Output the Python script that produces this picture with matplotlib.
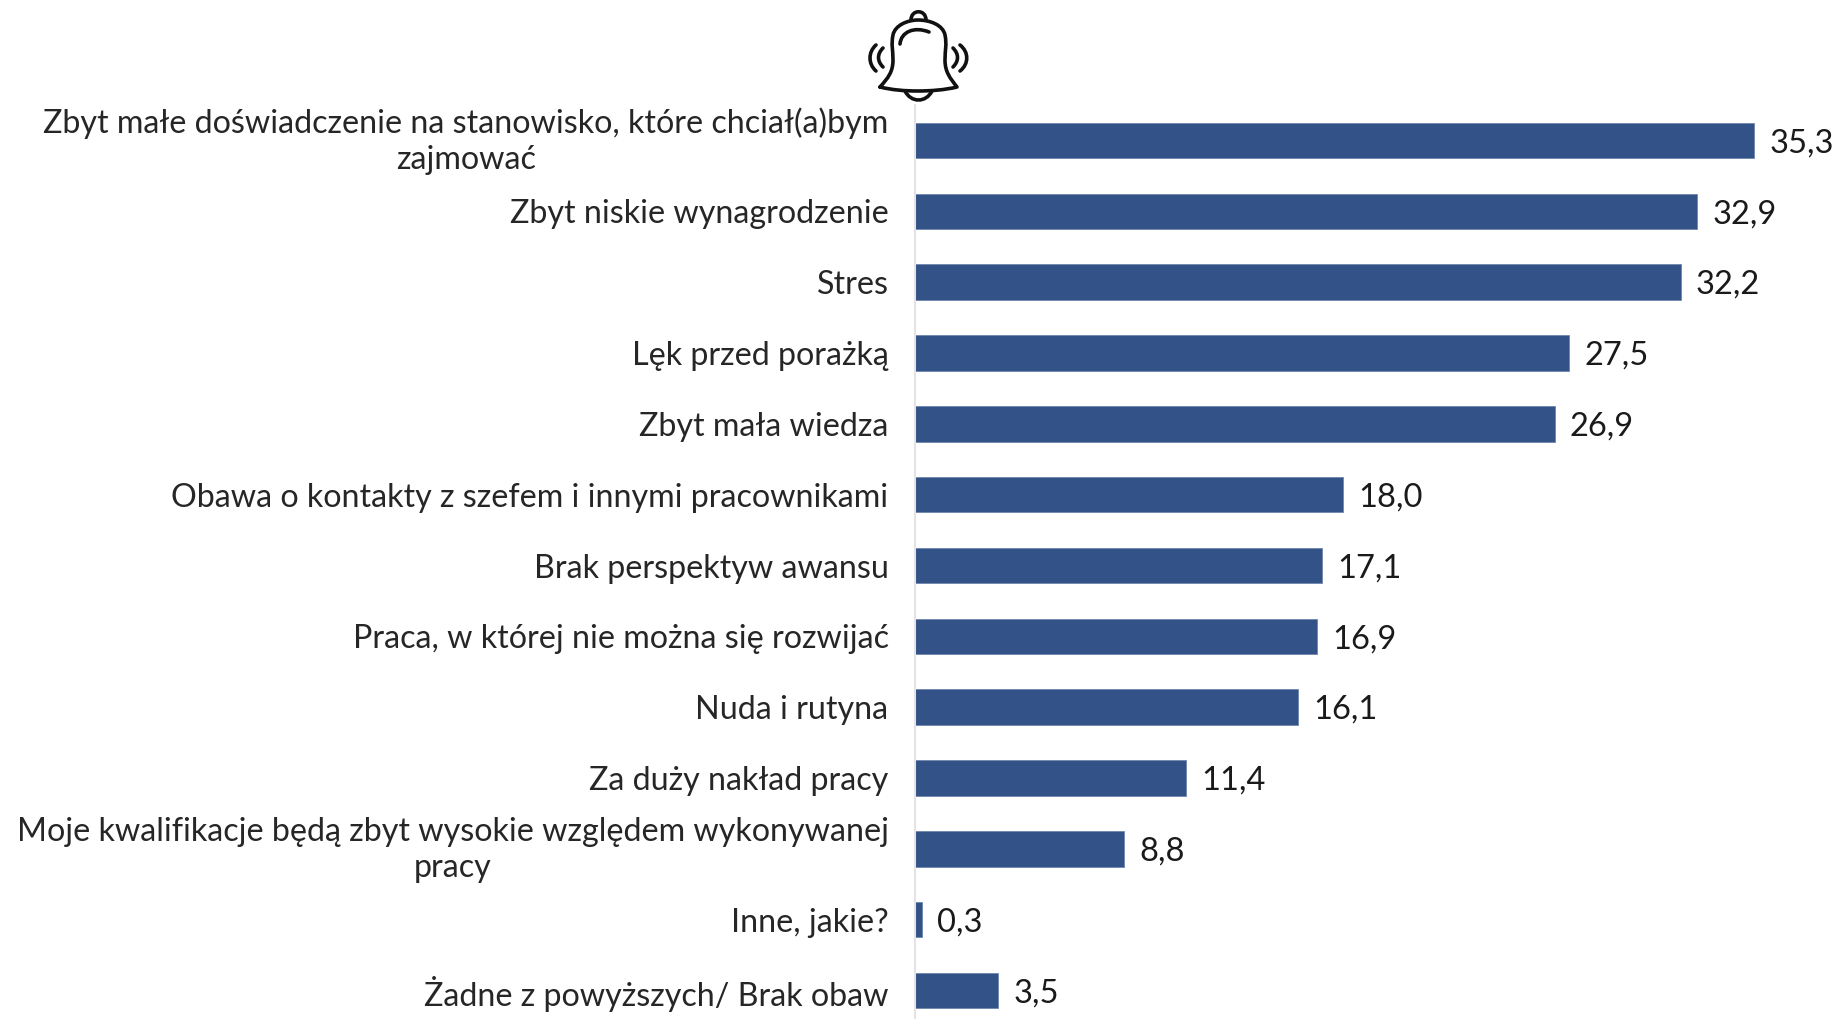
import matplotlib
matplotlib.use("Agg")
import matplotlib.pyplot as plt
from matplotlib.path import Path
from matplotlib.patches import PathPatch
from matplotlib.transforms import ScaledTranslation

categories = [
    "Zbyt małe doświadczenie na stanowisko, które chciał(a)bym\nzajmować",
    "Zbyt niskie wynagrodzenie",
    "Stres",
    "Lęk przed porażką",
    "Zbyt mała wiedza",
    "Obawa o kontakty z szefem i innymi pracownikami",
    "Brak perspektyw awansu",
    "Praca, w której nie można się rozwijać",
    "Nuda i rutyna",
    "Za duży nakład pracy",
    "Moje kwalifikacje będą zbyt wysokie względem wykonywanej\npracy",
    "Inne, jakie?",
    "Żadne z powyższych/ Brak obaw",
]
values = [35.3, 32.9, 32.2, 27.5, 26.9, 18.0, 17.1, 16.9, 16.1, 11.4, 8.8, 0.3, 3.5]
value_labels = ["35,3", "32,9", "32,2", "27,5", "26,9", "18,0", "17,1", "16,9", "16,1", "11,4", "8,8", "0,3", "3,5"]

W, H = 1837, 1019
BLUE = "#335288"
plt.rcParams["font.family"] = ["Lato", "DejaVu Sans"]

fig = plt.figure(figsize=(W / 100, H / 100), dpi=100)
ax = fig.add_axes([915 / W, (H - 1026) / H, (W - 915) / W, 921 / H])
ax.set_xlim(0, (W - 915) / 23.78)
ax.set_ylim(len(values) - 0.5, -0.5)
ypos = list(range(len(values)))
ax.barh(ypos, values, height=0.5, color=BLUE, edgecolor="#6f86ad", linewidth=0.6)
for s in ["top", "right", "bottom"]:
    ax.spines[s].set_visible(False)
ax.spines["left"].set_color("#e4e4e4")
ax.spines["left"].set_linewidth(1.5)
ax.xaxis.set_visible(False)
ax.set_yticks(ypos)
ax.set_yticklabels(categories, fontsize=23.2, color="#262626",
                   multialignment="center", linespacing=1.25)
ax.tick_params(axis="y", length=0, pad=19)
for lab in ax.get_yticklabels():
    dy = 5 if "\n" in lab.get_text() else 0
    lab.set_transform(lab.get_transform() + ScaledTranslation(0, dy / 100, fig.dpi_scale_trans))
for y, v, t in zip(ypos, values, value_labels):
    ax.annotate(t, (v, y), xytext=(11, -2), textcoords="offset points",
                va="center", ha="left", fontsize=23.5, color="#1a1a1a")

# Bell icon, drawn in figure pixels
ov = fig.add_axes([0, 0, 1, 1], facecolor="none")
ov.set_xlim(0, W)
ov.set_ylim(H, 0)
ov.axis("off")
M, C = Path.MOVETO, Path.CURVE4
def stroke(verts, lw=2.6):
    codes = [M] + [C] * (len(verts) - 1)
    ov.add_patch(PathPatch(Path(verts, codes), fill=False, edgecolor="#111111",
                           linewidth=lw, capstyle="round", joinstyle="round"))
# body
stroke([(880, 87), (888, 78), (893, 72), (893, 60),
        (893, 50), (891, 45), (893, 35),
        (895, 25), (908, 20), (918, 20),
        (930, 20), (943, 25), (945, 35),
        (947, 45), (945, 50), (945, 60),
        (945, 72), (950, 78), (957, 87),
        (945, 90), (930, 91), (918, 91),
        (905, 91), (892, 90), (880, 87)])
# top loop
stroke([(911, 20), (911, 9), (926, 9), (926, 20)])
# clapper
stroke([(905, 91), (911, 103), (926, 103), (932, 91)])
# highlight
stroke([(900, 44), (901, 32), (914, 26), (929, 32)])
# sound waves
stroke([(876, 45), (868, 52), (868, 64), (876, 71)])
stroke([(883, 48), (877, 54), (877, 61), (883, 67)])
stroke([(960, 45), (969, 52), (969, 64), (960, 71)])
stroke([(953, 48), (959, 54), (959, 61), (953, 67)])

fig.savefig("out.png", dpi=100, facecolor="white")
